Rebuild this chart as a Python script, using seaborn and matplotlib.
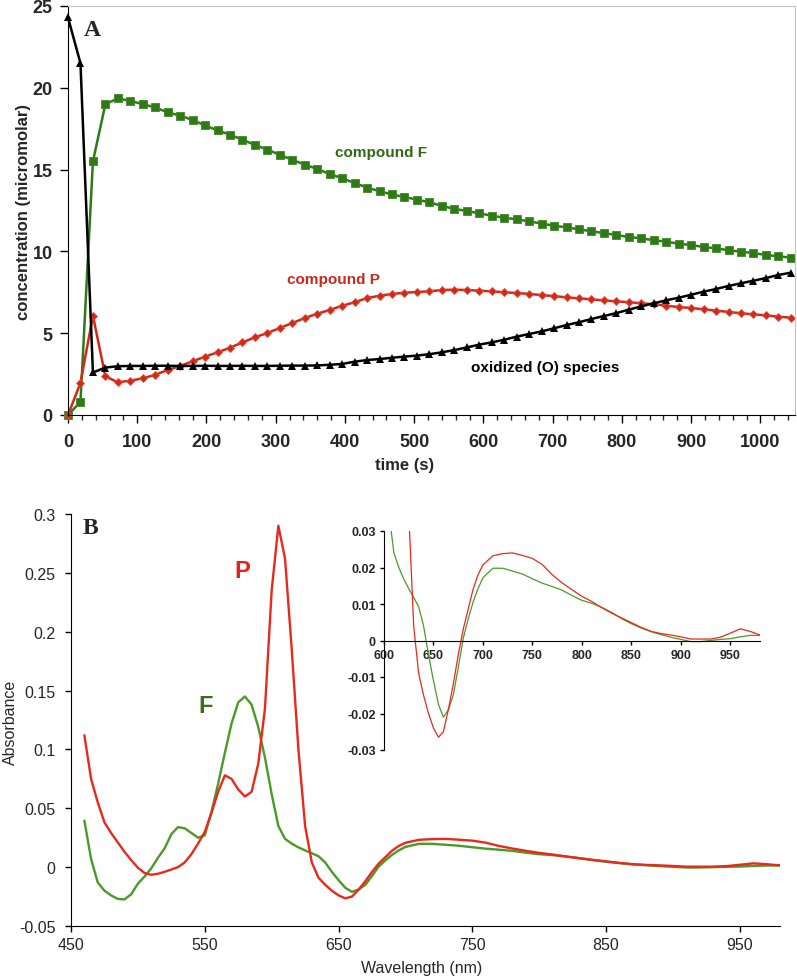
import matplotlib.pyplot as plt
import numpy as np
import pandas as pd
import seaborn as sns
from matplotlib.ticker import MultipleLocator, FuncFormatter

# Panel A - kinetics, concentrations in micromolar, sampled every 18 s
time_s = list(range(0, 1045, 18))
compound_f = [0.0, 0.8, 15.5, 19.0, 19.35, 19.2, 19.0, 18.8, 18.5, 18.3,
              18.03, 17.7, 17.4, 17.13, 16.83, 16.5, 16.22, 15.9, 15.6, 15.3,
              15.04, 14.73, 14.47, 14.18, 13.9, 13.68, 13.48, 13.32, 13.17, 13.0,
              12.78, 12.6, 12.47, 12.33, 12.18, 12.06, 11.96, 11.84, 11.7, 11.57,
              11.47, 11.35, 11.23, 11.12, 11.0, 10.88, 10.8, 10.68, 10.6, 10.47,
              10.39, 10.27, 10.19, 10.07, 9.98, 9.9, 9.78, 9.7, 9.62]
compound_p = [0.0, 1.96, 6.07, 2.36, 2.0, 2.1, 2.24, 2.46, 2.75, 3.0,
              3.28, 3.57, 3.83, 4.11, 4.44, 4.75, 5.01, 5.32, 5.62, 5.93,
              6.19, 6.42, 6.68, 6.89, 7.15, 7.29, 7.4, 7.47, 7.52, 7.56,
              7.64, 7.66, 7.64, 7.6, 7.56, 7.5, 7.46, 7.4, 7.33, 7.27,
              7.19, 7.13, 7.07, 7.0, 6.95, 6.89, 6.83, 6.77, 6.68, 6.6,
              6.54, 6.46, 6.38, 6.3, 6.22, 6.15, 6.09, 6.01, 5.95]
oxidized_o = [24.3, 21.5, 2.6, 2.9, 2.98, 3.0, 3.0, 3.01, 3.01, 3.0,
              3.0, 3.01, 3.0, 3.0, 3.01, 3.0, 3.0, 3.01, 3.02, 3.02,
              3.03, 3.07, 3.12, 3.26, 3.36, 3.42, 3.5, 3.57, 3.63, 3.72,
              3.83, 3.97, 4.13, 4.3, 4.44, 4.6, 4.79, 4.95, 5.11, 5.3,
              5.5, 5.67, 5.87, 6.05, 6.23, 6.44, 6.64, 6.83, 7.01, 7.17,
              7.35, 7.54, 7.7, 7.89, 8.05, 8.21, 8.37, 8.56, 8.7]

# Panel B - difference spectra (absorbance)
wavelength = list(range(460, 701, 5)) + list(range(710, 981, 10))
spec_p = [0.112, 0.075, 0.055, 0.038, 0.029, 0.021, 0.013, 0.006, -0.0005, -0.005,
          -0.0065, -0.0056, -0.004, -0.002, 0.0, 0.004, 0.011, 0.020, 0.030, 0.046,
          0.064, 0.078, 0.075, 0.066, 0.060, 0.064, 0.088, 0.135, 0.235, 0.290,
          0.262, 0.185, 0.100, 0.035, 0.004, -0.009, -0.015, -0.020, -0.024, -0.0265,
          -0.025, -0.019, -0.012, -0.004, 0.003, 0.0085, 0.014, 0.018, 0.0207,
          0.0232, 0.0238, 0.024, 0.0233, 0.0225, 0.0208, 0.018, 0.0158, 0.0139, 0.0121,
          0.0107, 0.009, 0.0075, 0.0062, 0.0049, 0.0036, 0.0025, 0.0019, 0.0015, 0.001,
          0.0004, 0.0004, 0.0004, 0.0009, 0.002, 0.0032, 0.0025, 0.0015]
spec_f = [0.0395, 0.007, -0.013, -0.020, -0.024, -0.027, -0.0274, -0.023, -0.014, -0.008,
          -0.001, 0.008, 0.016, 0.028, 0.034, 0.033, 0.029, 0.025, 0.027, 0.047,
          0.071, 0.097, 0.122, 0.140, 0.145, 0.138, 0.119, 0.093, 0.062, 0.035,
          0.024, 0.020, 0.0168, 0.0142, 0.0118, 0.0093, 0.004, -0.004, -0.011, -0.0175,
          -0.021, -0.019, -0.015, -0.0075, 0.0005, 0.0058, 0.0105, 0.0142, 0.0172,
          0.0198, 0.0198, 0.019, 0.0182, 0.0169, 0.0157, 0.0148, 0.0138, 0.0123, 0.011,
          0.0102, 0.0091, 0.0077, 0.006, 0.0046, 0.0034, 0.0024, 0.0016, 0.0009, 0.0003,
          -0.0003, -0.0003, 0.0, 0.0003, 0.0005, 0.001, 0.0014, 0.0014]

W, H = 797, 979


def fx(x):
    return x / W


def fy(y):
    return 1 - y / H


def general(v, pos):
    s = f"{v:.2f}".rstrip("0").rstrip(".")
    return "0" if s in ("-0", "0", "") else s


sns.set_style("ticks")
plt.rcParams["font.family"] = ["Liberation Sans", "DejaVu Sans"]

fig = plt.figure(figsize=(7.97, 9.79), dpi=100)

# ---------- panel A ----------
kin = pd.DataFrame({"time": time_s, "F": compound_f, "P": compound_p, "O": oxidized_o})
axA = fig.add_axes([fx(68), fy(416), (795 - 68) / W, (416 - 7) / H])
sns.lineplot(data=kin, x="time", y="F", ax=axA, color="#2f7a17", linewidth=1.8,
             marker="s", markersize=5.2, markeredgecolor="#3e8a25", markeredgewidth=0.6,
             clip_on=False)
sns.lineplot(data=kin, x="time", y="P", ax=axA, color="#d2281a", linewidth=1.8,
             marker="D", markersize=3.6, markeredgecolor="#e0503c", markeredgewidth=0.6,
             clip_on=False)
sns.lineplot(data=kin, x="time", y="O", ax=axA, color="black", linewidth=1.8,
             marker="^", markersize=5.5, markeredgewidth=0, clip_on=False)
axA.set_xlim(0, 1050)
axA.set_ylim(0, 25)
axA.set_xticks(range(0, 1001, 100))
axA.xaxis.set_minor_locator(MultipleLocator(20))
axA.set_yticks(range(0, 26, 5))
axA.tick_params(axis="both", which="major", direction="out", length=6, width=1,
                labelsize=13, color="black")
axA.tick_params(axis="y", pad=5)
axA.tick_params(axis="x", pad=7)
axA.tick_params(axis="x", which="minor", direction="out", length=3.5, width=1)
for lab in axA.get_xticklabels() + axA.get_yticklabels():
    lab.set_fontweight("bold")
for side in ("top", "right"):
    axA.spines[side].set_color("#c4c4c4")
for side in ("left", "bottom"):
    axA.spines[side].set_color("black")
axA.set_xlabel("")
axA.set_ylabel("")
fig.text(fx(405), fy(466), "time (s)", fontsize=12, fontweight="bold",
         ha="center", va="center")
fig.text(fx(24), fy(212), "concentration (micromolar)", fontsize=12,
         fontweight="bold", rotation=90, ha="center", va="center")

fig.text(fx(381), fy(153), "compound F", color="#2e6b14", fontsize=11,
         fontweight="bold", ha="center", va="center")
fig.text(fx(333), fy(280), "compound P", color="#c8281e", fontsize=11,
         fontweight="bold", ha="center", va="center")
fig.text(fx(545), fy(368), "oxidized (O) species", color="black", fontsize=11,
         fontweight="bold", ha="center", va="center")
fig.text(fx(92), fy(31), "A", family="Liberation Serif", fontsize=17,
         fontweight="bold", ha="center", va="center")

# ---------- panel B ----------
spec = pd.DataFrame({"wl": wavelength, "P": spec_p, "F": spec_f})
axB = fig.add_axes([fx(71), fy(927), (780 - 71) / W, (927 - 515) / H])
sns.lineplot(data=spec, x="wl", y="F", ax=axB, color="#4a9a2a", linewidth=1.7)
sns.lineplot(data=spec, x="wl", y="P", ax=axB, color="#e8291c", linewidth=1.7)
axB.set_xlim(450, 980)
axB.set_ylim(-0.05, 0.3)
axB.set_xticks(range(450, 951, 100))
axB.set_yticks(np.arange(-0.05, 0.301, 0.05))
axB.yaxis.set_major_formatter(FuncFormatter(general))
axB.tick_params(axis="both", direction="out", length=4, width=1, labelsize=11.5,
                color="black")
axB.tick_params(axis="y", pad=7)
axB.tick_params(axis="x", pad=4)
sns.despine(ax=axB)
for side in ("left", "bottom"):
    axB.spines[side].set_color("black")
axB.set_xlabel("")
axB.set_ylabel("")
fig.text(fx(422), fy(969), "Wavelength (nm)", fontsize=11.5, ha="center", va="center")
fig.text(fx(10), fy(722), "Absorbance", fontsize=11.5, rotation=90,
         ha="center", va="center")

fig.text(fx(242), fy(572), "P", color="#e0231b", fontsize=17, fontweight="bold",
         ha="center", va="center")
fig.text(fx(206), fy(707), "F", color="#3d6e1e", fontsize=17, fontweight="bold",
         ha="center", va="center")
fig.text(fx(90), fy(529), "B", family="Liberation Serif", fontsize=17,
         fontweight="bold", ha="center", va="center")

# ---------- inset ----------
axI = fig.add_axes([fx(384), fy(751), (760 - 384) / W, (751 - 532) / H])
axI.patch.set_alpha(0)
sns.lineplot(data=spec, x="wl", y="F", ax=axI, color="#4a9a2a", linewidth=0.9)
sns.lineplot(data=spec, x="wl", y="P", ax=axI, color="#e8291c", linewidth=0.9)
axI.set_xlim(600, 980)
axI.set_ylim(-0.03, 0.03)
axI.set_xticks(range(600, 951, 50))
axI.set_yticks(np.arange(-0.03, 0.031, 0.01))
axI.yaxis.set_major_formatter(FuncFormatter(general))
axI.spines["top"].set_visible(False)
axI.spines["right"].set_visible(False)
axI.spines["bottom"].set_position(("data", 0))
for side in ("left", "bottom"):
    axI.spines[side].set_color("black")
axI.tick_params(axis="both", direction="out", length=3, width=1, labelsize=9,
                pad=3, color="black")
for lab in axI.get_xticklabels() + axI.get_yticklabels():
    lab.set_fontweight("bold")
axI.set_xlabel("")
axI.set_ylabel("")

fig.savefig("out.png", dpi=100)
